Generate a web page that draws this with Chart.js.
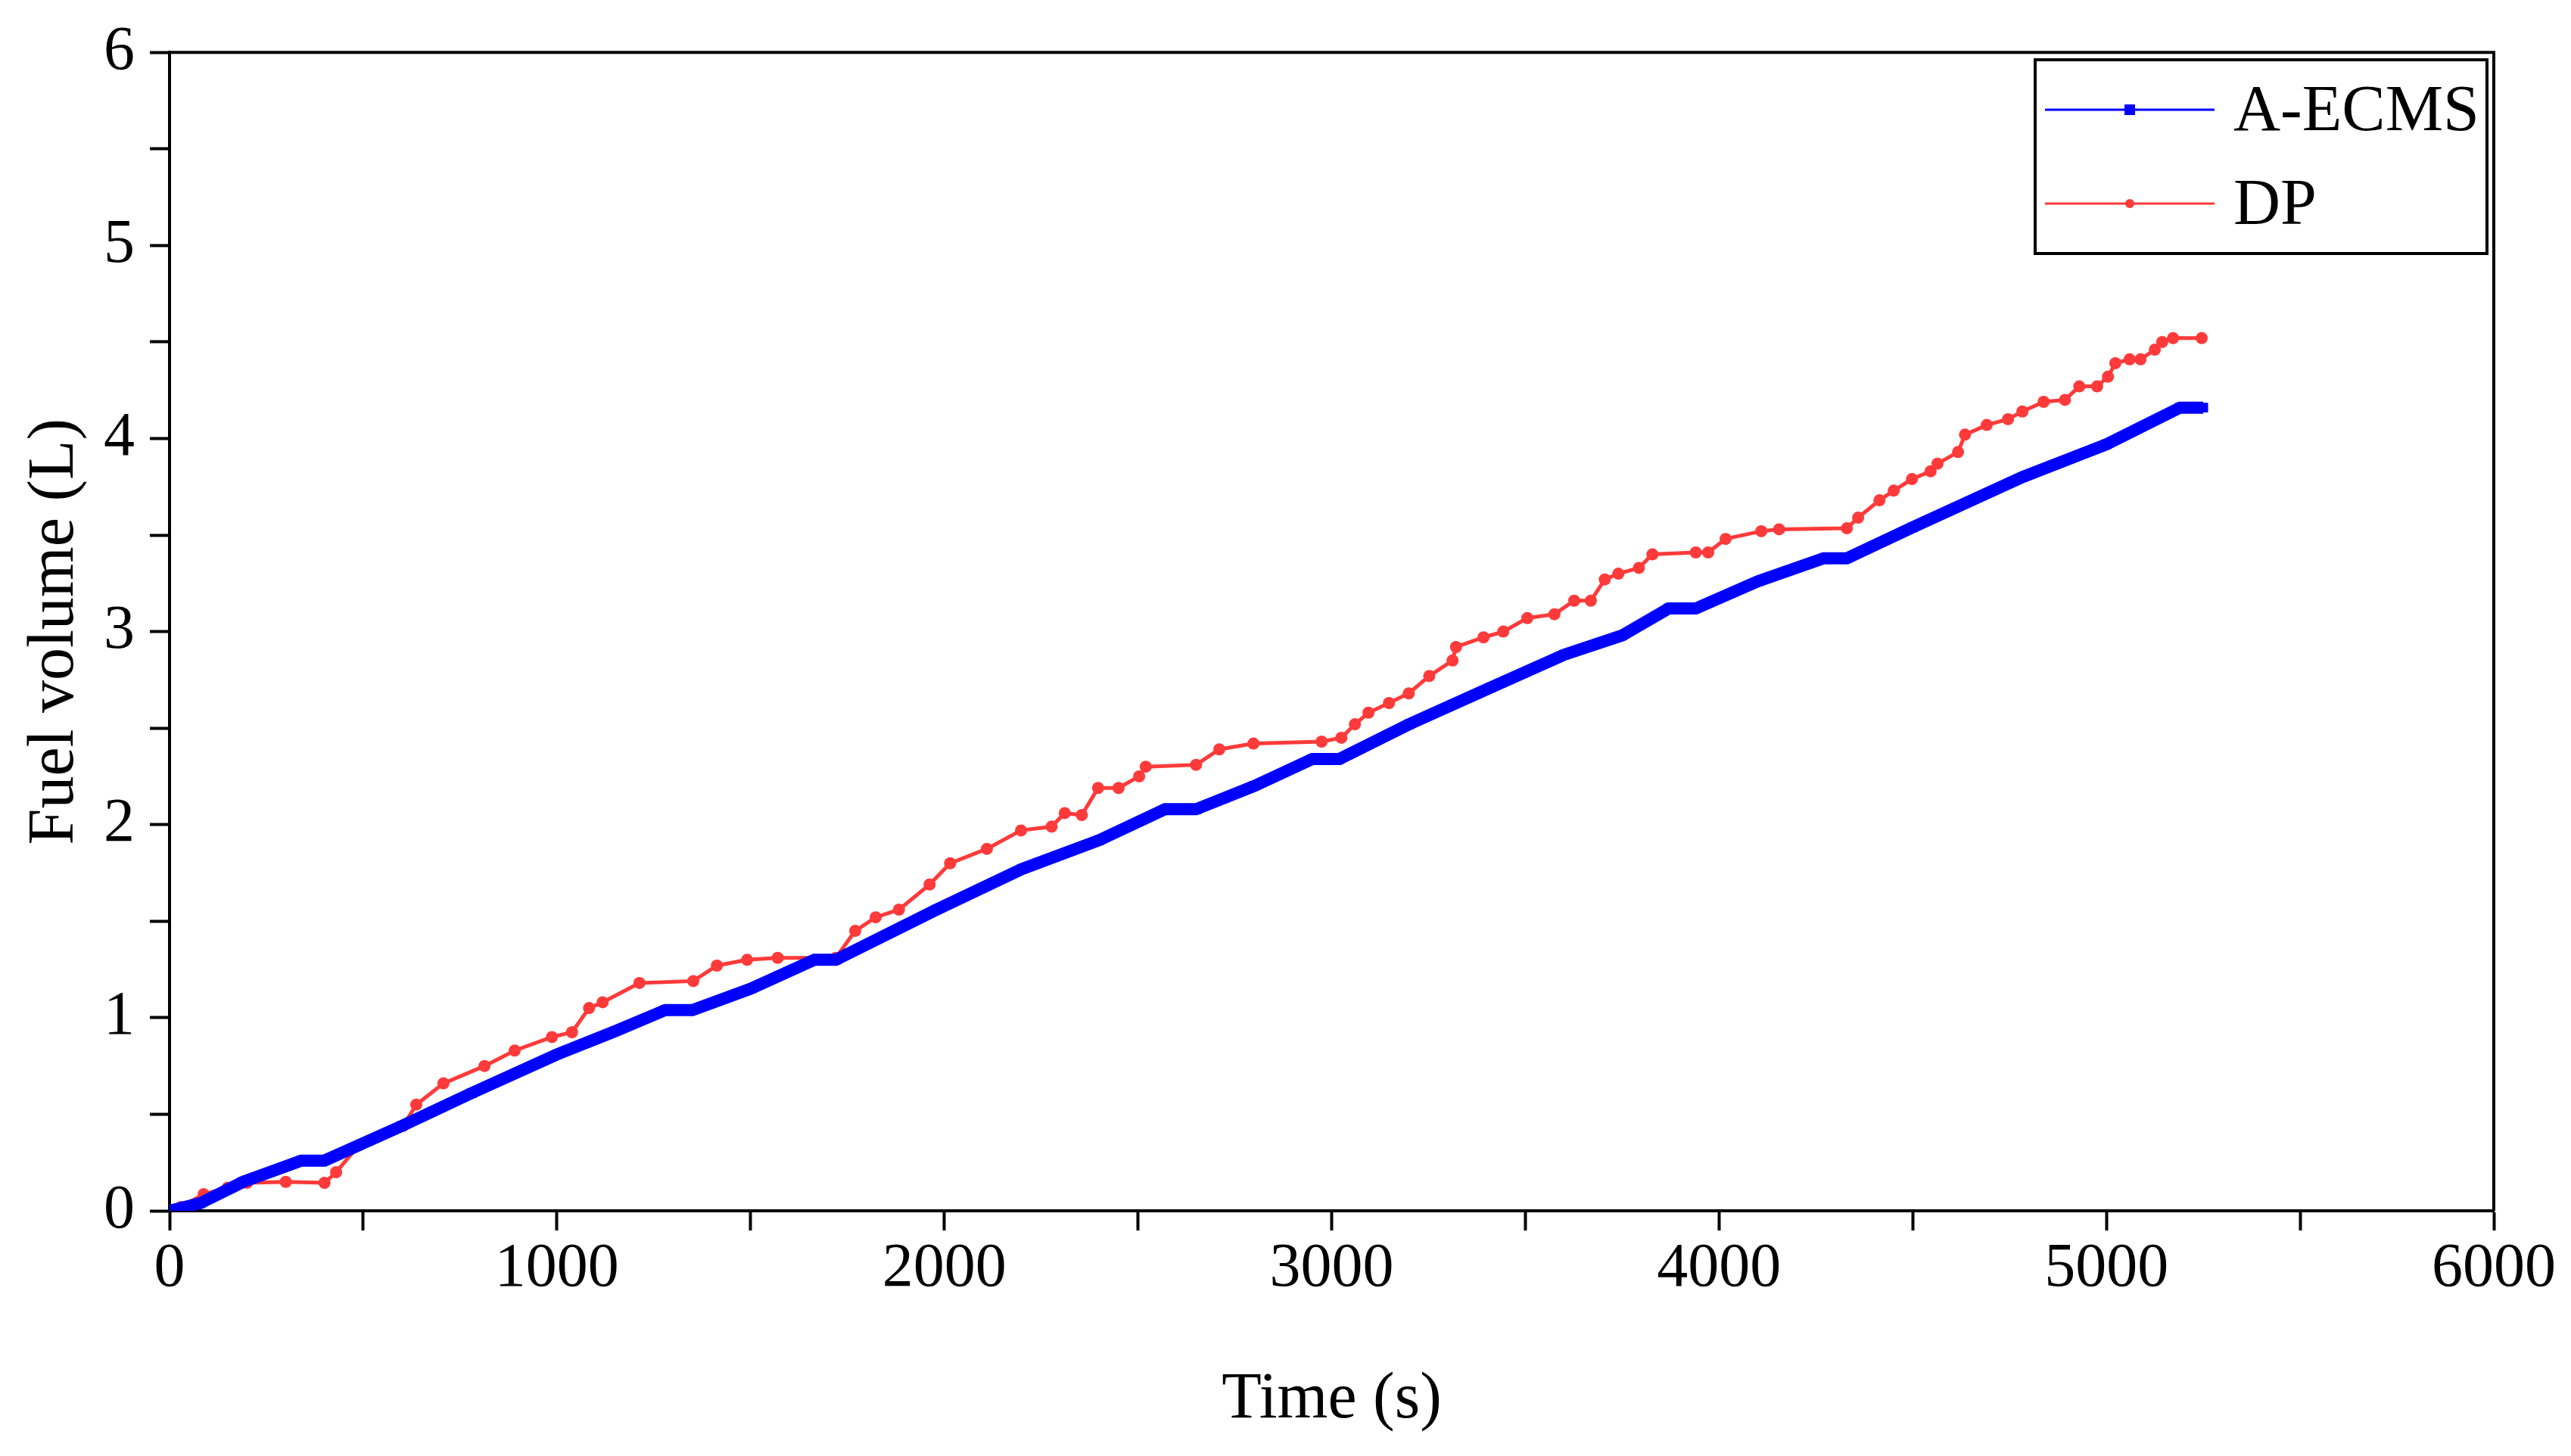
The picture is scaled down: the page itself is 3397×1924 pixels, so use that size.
<!DOCTYPE html>
<html>
<head>
  <title>Fuel volume vs time</title>
  <script src="https://cdn.jsdelivr.net/npm/chart.js"></script>
  <style>
    html, body { margin: 0; padding: 0; background: #fff; }
    canvas { display: block; }
  </style>
</head>
<body>
  <canvas id="fuelChart" width="3397" height="1924"></canvas>

  <script>
    // values
    const ecmsTime = [0, 80, 190, 340, 400, 600, 780, 1000, 1150, 1280, 1350, 1500, 1665, 1720, 1980, 2200, 2400, 2570, 2650, 2800, 2950, 3020, 3200, 3410, 3600, 3750, 3870, 3940, 4100, 4270, 4330, 4500, 4783, 5000, 5190, 5250];
    const ecmsFuel = [0, 0.04, 0.15, 0.26, 0.26, 0.44, 0.61, 0.81, 0.93, 1.04, 1.04, 1.15, 1.30, 1.30, 1.56, 1.77, 1.92, 2.08, 2.08, 2.20, 2.34, 2.34, 2.52, 2.71, 2.88, 2.98, 3.12, 3.12, 3.26, 3.38, 3.38, 3.54, 3.80, 3.97, 4.16, 4.16];

    const dpTime = [0, 30, 88, 150, 200, 300, 400, 430, 489, 603, 637, 707, 813, 891, 987, 1039, 1083, 1118, 1213, 1352, 1413, 1491, 1570, 1720, 1770, 1823, 1883, 1962, 2015, 2110, 2198, 2277, 2311, 2355, 2397, 2450, 2503, 2520, 2650, 2710, 2798, 2974, 3025, 3060, 3095, 3148, 3199, 3252, 3312, 3321, 3392, 3443, 3505, 3575, 3626, 3669, 3705, 3740, 3793, 3828, 3940, 3972, 4017, 4109, 4155, 4330, 4359, 4414, 4451, 4498, 4546, 4564, 4617, 4635, 4691, 4746, 4783, 4838, 4893, 4930, 4976, 5004, 5023, 5060, 5088, 5125, 5144, 5172, 5246];
    const dpFuel = [0, 0.02, 0.086, 0.12, 0.145, 0.15, 0.145, 0.2, 0.34, 0.44, 0.55, 0.66, 0.75, 0.83, 0.90, 0.925, 1.05, 1.08, 1.18, 1.19, 1.27, 1.30, 1.31, 1.31, 1.45, 1.52, 1.56, 1.69, 1.80, 1.875, 1.97, 1.99, 2.06, 2.05, 2.19, 2.19, 2.25, 2.30, 2.31, 2.39, 2.42, 2.43, 2.45, 2.52, 2.58, 2.63, 2.68, 2.77, 2.85, 2.92, 2.97, 3.00, 3.07, 3.09, 3.16, 3.16, 3.27, 3.30, 3.33, 3.40, 3.41, 3.41, 3.48, 3.52, 3.53, 3.535, 3.59, 3.68, 3.73, 3.79, 3.83, 3.87, 3.93, 4.02, 4.07, 4.10, 4.14, 4.19, 4.20, 4.27, 4.27, 4.32, 4.39, 4.41, 4.41, 4.46, 4.50, 4.52, 4.52];

    const seriesNames = ['A-ECMS', 'DP'];
    const xTitle = 'Time (s)';
    const yTitle = 'Fuel volume (L)';

    const BLUE = '#0000ff';
    const RED = 'rgb(255,58,58)';
    const FONT = "'Liberation Serif', 'Times New Roman', serif";

    const toPoints = (xs, ys) => xs.map((x, i) => ({ x: x, y: ys[i] }));

    // closes the box on top and right, and draws the legend
    const framePlugin = {
      id: 'frame',
      afterDraw(chart) {
        const { ctx, chartArea: a } = chart;
        ctx.save();
        ctx.strokeStyle = '#000';
        ctx.lineWidth = 4;
        ctx.beginPath();
        ctx.moveTo(a.left, a.top);
        ctx.lineTo(a.right, a.top);
        ctx.lineTo(a.right, a.bottom);
        ctx.stroke();

        // legend box
        const bx = 2689, by = 79, bw = 597, bh = 256;
        ctx.fillStyle = '#fff';
        ctx.fillRect(bx, by, bw, bh);
        ctx.strokeRect(bx, by, bw, bh);

        const rows = [
          { y: 145, color: BLUE, width: 3, marker: 'rect' },
          { y: 269, color: RED, width: 3, marker: 'circle' }
        ];
        rows.forEach((r, i) => {
          ctx.strokeStyle = r.color;
          ctx.lineWidth = r.width;
          ctx.beginPath();
          ctx.moveTo(2702, r.y);
          ctx.lineTo(2926, r.y);
          ctx.stroke();
          ctx.fillStyle = r.color;
          if (r.marker === 'rect') {
            ctx.fillRect(2814 - 7, r.y - 7, 14, 14);
          } else {
            ctx.beginPath();
            ctx.arc(2814, r.y, 6, 0, Math.PI * 2);
            ctx.fill();
          }
          ctx.fillStyle = '#000';
          ctx.font = '86px ' + FONT;
          ctx.textBaseline = 'middle';
          ctx.textAlign = 'left';
          ctx.fillText(seriesNames[i], 2951, r.y + 4);
        });
        ctx.restore();
      }
    };

    const ctx = document.getElementById('fuelChart').getContext('2d');
    new Chart(ctx, {
      type: 'line',
      data: {
        datasets: [
          {
            label: seriesNames[0],
            data: toPoints(ecmsTime, ecmsFuel),
            borderColor: BLUE,
            backgroundColor: BLUE,
            borderWidth: 16,
            borderCapStyle: 'butt',
            pointStyle: 'rect',
            pointRadius: 9,
            pointBorderWidth: 0,
            fill: false,
            tension: 0
          },
          {
            label: seriesNames[1],
            data: toPoints(dpTime, dpFuel),
            borderColor: RED,
            backgroundColor: RED,
            borderWidth: 5,
            pointStyle: 'circle',
            pointRadius: 8,
            pointBorderWidth: 0,
            fill: false,
            tension: 0
          }
        ]
      },
      options: {
        responsive: false,
        animation: false,
        devicePixelRatio: 1,
        layout: { padding: { left: 0, right: 102, top: 64, bottom: 0 } },
        plugins: { legend: { display: false }, tooltip: { enabled: false } },
        scales: {
          x: {
            type: 'linear',
            min: 0,
            max: 6000,
            border: { color: '#000', width: 4 },
            grid: { drawOnChartArea: false, drawTicks: true, tickLength: 26, tickWidth: 4, tickColor: '#000' },
            ticks: {
              stepSize: 500,
              padding: 2,
              color: '#000',
              maxRotation: 0,
              autoSkip: false,
              font: { family: FONT, size: 82 },
              callback: v => (v % 1000 === 0 ? String(v) : '')
            },
            title: {
              display: true,
              text: xTitle,
              color: '#000',
              font: { family: FONT, size: 86 },
              padding: { top: 0, bottom: 22 }
            },
            afterFit: s => { s.height = 324; }
          },
          y: {
            type: 'linear',
            min: 0,
            max: 6,
            border: { color: '#000', width: 4 },
            grid: { drawOnChartArea: false, drawTicks: true, tickLength: 26, tickWidth: 4, tickColor: '#000' },
            ticks: {
              stepSize: 0.5,
              padding: 20,
              color: '#000',
              autoSkip: false,
              font: { family: FONT, size: 82 },
              callback: v => (Number.isInteger(v) ? String(v) : '')
            },
            title: {
              display: true,
              text: yTitle,
              color: '#000',
              font: { family: FONT, size: 86 },
              padding: { top: 22, bottom: 0 }
            },
            afterFit: s => { s.width = 224; }
          }
        }
      },
      plugins: [framePlugin]
    });
  </script>
</body>
</html>
